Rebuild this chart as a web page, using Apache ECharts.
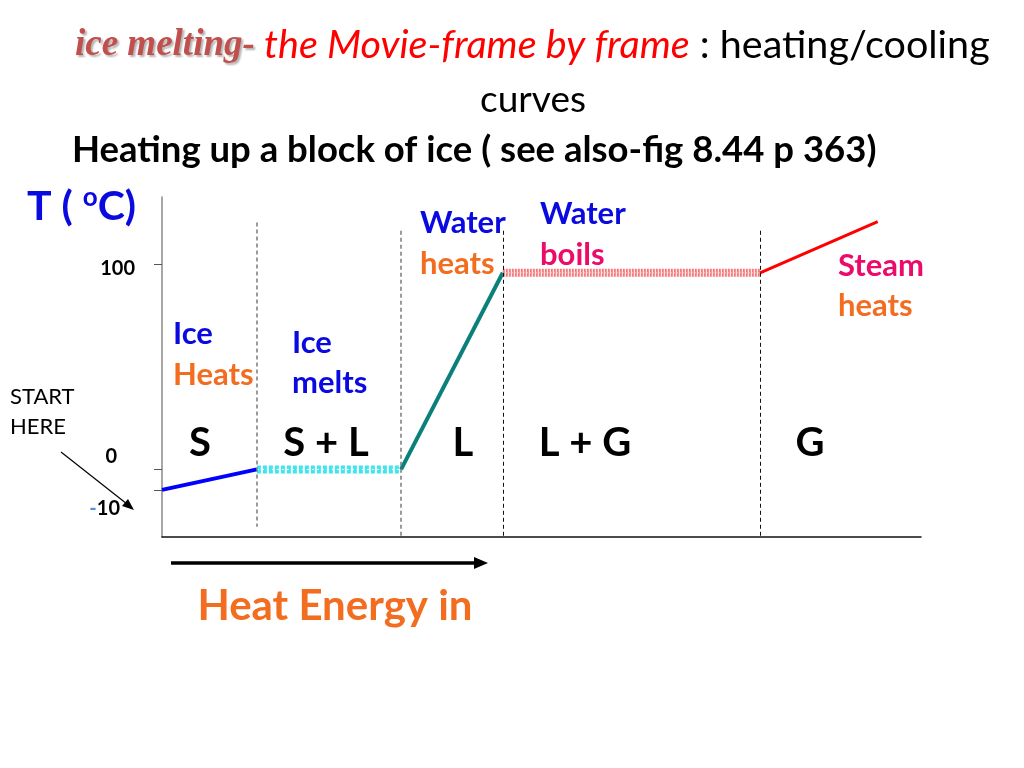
<!DOCTYPE html>
<html>
<head>
<meta charset="utf-8">
<script src="https://cdn.jsdelivr.net/npm/echarts@6/dist/echarts.min.js"></script>
<style>
html, body { margin: 0; padding: 0; background: #fff; }
#chart { width: 1024px; height: 768px; }
</style>
</head>
<body>
<div id="chart"></div>
<script>
// heating curve of a block of ice
var heat = [0, 12.5, 31.5, 44.9, 78.8, 94.3];   // heat energy in (arbitrary units)
var temp = [-10, 0, 0, 96, 96, 121];            // temperature (oC)
var tickValues = [-10, 0, 100];
var boundaries = [12.5, 31.5, 44.9, 78.8];       // phase change edges
var boundaryTop = [120.5, 116.5, 116.5, 116.5];
var boundaryBottom = [-28, -33, -33, -33];
var phaseNames = ['S', 'S + L', 'L', 'L + G', 'G'];

var FONT = 'Lato';
var BLUE = '#0a0ae0';
var ORANGE = '#f26d1f';
var PINK = '#ec0a6a';

function seg(i) {
	return [[heat[i], temp[i]], [heat[i + 1], temp[i + 1]]];
}

function lineSeries(data, color, width, type, z) {
	return {
		type: 'line', data: data, symbol: 'none', silent: true, z: z || 2,
		lineStyle: { color: color, width: width, type: type || 'solid', cap: 'butt' }
	};
}

function txt(x, y, text, color, size, weight, align) {
	return {
		type: 'text', x: x, y: y, silent: true,
		style: {
			text: text, fill: color, fontSize: size, fontFamily: FONT,
			fontWeight: weight || 'bold', align: align || 'left', verticalAlign: 'middle'
		}
	};
}

var markData = [];
boundaries.forEach(function (b, i) {
	markData.push([
		{ coord: [b, boundaryTop[i]], lineStyle: { color: i < 2 ? '#7a7a7a' : '#111', width: i < 2 ? 1.5 : 1, type: [4, 3] } },
		{ coord: [b, boundaryBottom[i]] }
	]);
});

var chart = echarts.init(document.getElementById('chart'));

var series = [
	lineSeries(seg(0), '#0000ff', 4),
	lineSeries(seg(1), '#3fe6f0', 8, [4, 2]),
	lineSeries(seg(1), '#ffffff', 1, [2, 3], 3),
	lineSeries(seg(2), '#0b807b', 4),
	lineSeries(seg(3), '#f27a7a', 8, [2, 1]),
	lineSeries(seg(3), '#fbd0d0', 1, [1, 2], 3),
	lineSeries(seg(4), '#ff0000', 3)
];
series[0].markLine = { silent: true, symbol: 'none', label: { show: false }, data: markData };

var tickFont = { fontSize: 20, fontWeight: 'bold', fontFamily: FONT, color: '#000' };

chart.setOption({
	animation: false,
	grid: { left: 162, right: 103, top: 197, bottom: 231 },
	xAxis: {
		type: 'value', min: 0, max: 100,
		axisLine: { show: true, onZero: false, lineStyle: { color: '#111', width: 1.5 } },
		axisTick: { show: false }, axisLabel: { show: false }, splitLine: { show: false }
	},
	yAxis: {
		type: 'value', min: -33, max: 133,
		axisLine: { show: true, lineStyle: { color: '#8a8a8a', width: 1.5 } },
		axisTick: { show: true, length: 8, customValues: tickValues, lineStyle: { color: '#555', width: 1 } },
		splitLine: { show: false },
		axisLabel: {
			margin: 27, customValues: tickValues,
			formatter: function (v) {
				if (v === 100) return '{h|100}';
				if (v === 0) return '{z|0}';
				return '{m|-}{n|10}';
			},
			rich: {
				h: Object.assign({ padding: [8, 0, 0, 0] }, tickFont),
				z: Object.assign({ padding: [0, 18, 26, 0] }, tickFont),
				m: Object.assign({ padding: [38, 0, 0, 0] }, tickFont, { color: '#5b8fd6' }),
				n: Object.assign({ padding: [38, 15, 0, 0] }, tickFont)
			}
		}
	},
	series: series,
	graphic: [
		{
			type: 'text', x: 75, y: 45, silent: true,
			style: {
				text: '{a|ice melting-}{b| the Movie-frame by frame}{c| : heating/cooling}',
				verticalAlign: 'middle',
				rich: {
					a: { fontFamily: 'Liberation Serif', fontStyle: 'italic', fontWeight: 'bold', fontSize: 37, fill: '#c0504d',
						textShadowColor: 'rgba(0,0,0,0.3)', textShadowOffsetX: 2, textShadowOffsetY: 2, textShadowBlur: 2 },
					b: { fontFamily: FONT, fontStyle: 'italic', fontSize: 39.5, fill: '#ff0000' },
					c: { fontFamily: FONT, fontSize: 39.5, fill: '#000' }
				}
			}
		},
		txt(533, 100, 'curves', '#000', 37, 'normal', 'center'),
		txt(72, 150, 'Heating up a block of ice ( see also-fig 8.44 p 363)', '#000', 36.5),
		{
			type: 'text', x: 27, y: 207, silent: true,
			style: {
				text: '{t|T ( }{o|o}{t|C)}', verticalAlign: 'middle',
				rich: {
					t: { fontFamily: FONT, fontWeight: 'bold', fontSize: 41, fill: BLUE },
					o: { fontFamily: FONT, fontWeight: 'bold', fontSize: 26, fill: BLUE, padding: [0, 0, 18, 0] }
				}
			}
		},
		txt(173, 334, 'Ice', BLUE, 31),
		txt(173, 375, 'Heats', ORANGE, 31),
		txt(292, 343, 'Ice', BLUE, 31),
		txt(292, 383, 'melts', BLUE, 31),
		txt(420, 223, 'Water', BLUE, 31),
		txt(420, 264, 'heats', ORANGE, 31),
		txt(540, 214, 'Water', BLUE, 31),
		txt(540, 255, 'boils', PINK, 31),
		txt(838, 266, 'Steam', PINK, 31),
		txt(838, 306, 'heats', ORANGE, 31),
		txt(200, 443, phaseNames[0], '#000', 40, 'bold', 'center'),
		txt(326, 443, phaseNames[1], '#000', 40, 'bold', 'center'),
		txt(463, 443, phaseNames[2], '#000', 40, 'bold', 'center'),
		txt(585, 443, phaseNames[3], '#000', 40, 'bold', 'center'),
		txt(810, 443, phaseNames[4], '#000', 40, 'bold', 'center'),
		txt(10, 397, 'START', '#000', 22, 'normal'),
		txt(10, 427, 'HERE', '#000', 22, 'normal'),
		{ type: 'line', silent: true, shape: { x1: 61, y1: 452, x2: 127, y2: 504 }, style: { stroke: '#000', lineWidth: 1.2 } },
		{ type: 'polygon', silent: true, shape: { points: [[134, 510], [122, 506], [128, 499]] }, style: { fill: '#000' } },
		{ type: 'line', silent: true, shape: { x1: 171, y1: 563, x2: 476, y2: 563 }, style: { stroke: '#000', lineWidth: 3.5 } },
		{ type: 'polygon', silent: true, shape: { points: [[488, 563], [474, 557], [474, 569]] }, style: { fill: '#000' } },
		txt(335, 606, 'Heat Energy in', ORANGE, 42, 'bold', 'center')
	]
});
</script>
</body>
</html>
